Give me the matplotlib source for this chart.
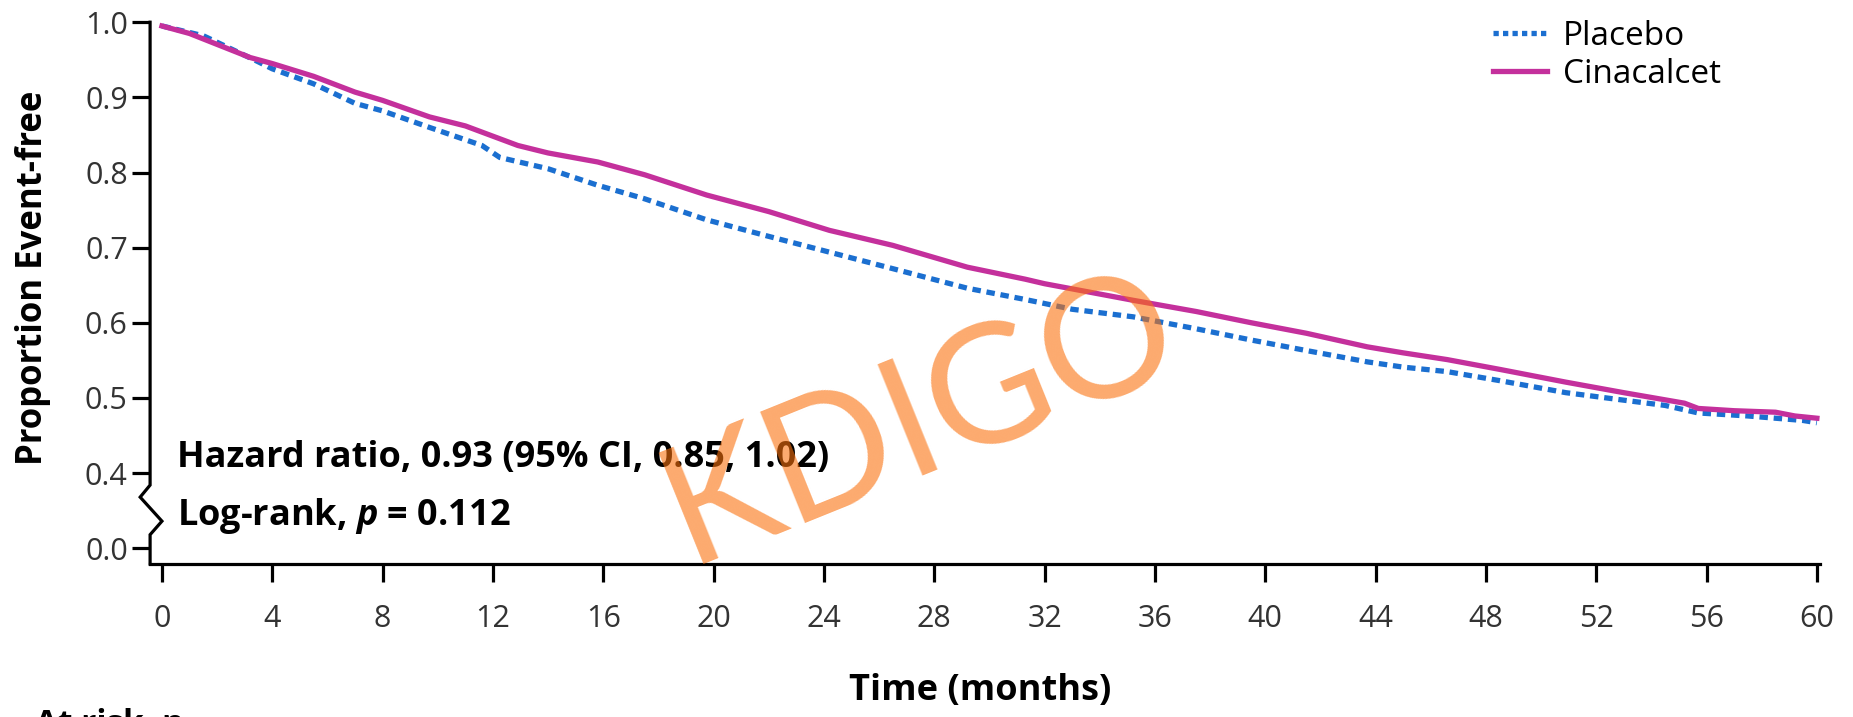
import matplotlib
matplotlib.use("Agg")
import matplotlib.pyplot as plt
from matplotlib.lines import Line2D

# Kaplan-Meier style curves (months, proportion event-free)
cina_t = [0, 1, 3.2, 4, 5.5, 7, 8, 9.7, 11, 12.9, 14, 15.8, 17.5, 19.75, 22, 24.2,
          26.5, 29.2, 31.3, 32, 35.2, 37.5, 39.5, 41.5, 43.7, 45, 46.6, 48.5, 50.9,
          53, 55.2, 55.7, 57, 58.5, 59.2, 60]
cina_s = [0.995, 0.985, 0.953, 0.945, 0.928, 0.907, 0.896, 0.874, 0.862, 0.836, 0.826,
          0.814, 0.797, 0.770, 0.748, 0.723, 0.703, 0.674, 0.658, 0.652, 0.630, 0.615,
          0.600, 0.586, 0.568, 0.560, 0.551, 0.538, 0.521, 0.507, 0.493, 0.486, 0.483,
          0.481, 0.476, 0.473]

plac_t = [0, 1.5, 3.4, 4, 5.5, 7, 8, 9.7, 11.6, 12.25, 14, 15.8, 17.5, 19.75, 22, 24.2,
          26.5, 29.2, 31.3, 33, 35.2, 37.5, 39.5, 41.5, 43.7, 45, 46.6, 48.5, 50.9, 53,
          54.5, 55.7, 57.5, 59.5, 60]
plac_s = [0.995, 0.982, 0.949, 0.938, 0.918, 0.892, 0.882, 0.860, 0.836, 0.820, 0.805,
          0.783, 0.765, 0.737, 0.715, 0.694, 0.672, 0.646, 0.631, 0.618, 0.608, 0.592,
          0.577, 0.563, 0.548, 0.541, 0.535, 0.523, 0.507, 0.497, 0.490, 0.480, 0.476,
          0.470, 0.467]

x_ticks = list(range(0, 61, 4))
y_tick_pos = [0.3, 0.4, 0.5, 0.6, 0.7, 0.8, 0.9, 1.0]   # 0.0 drawn at 0.3 (broken axis)
y_tick_lab = ["0.0", "0.4", "0.5", "0.6", "0.7", "0.8", "0.9", "1.0"]

MAGENTA = "#c4309c"
BLUE = "#1b6fd0"
FONT = "Open Sans"

plt.rcParams["font.family"] = [FONT, "DejaVu Sans"]
plt.rcParams["mathtext.fontset"] = "custom"
plt.rcParams["mathtext.it"] = "Open Sans:italic:bold"

fig = plt.figure(figsize=(18.53, 7.17), dpi=100)
ax = fig.add_axes([0.081, 0.2134, 0.901, 0.7556])

ax.plot(plac_t, plac_s, color=BLUE, lw=3.8, linestyle=(0, (1.6, 1.1)),
        dash_capstyle="butt", zorder=3)
ax.plot(cina_t, cina_s, color=MAGENTA, lw=3.8, zorder=4)

ax.set_xlim(-0.43, 60.1)
ax.set_ylim(0.279, 1.0)
ax.set_xticks(x_ticks)
ax.set_yticks(y_tick_pos)
ax.set_yticklabels(y_tick_lab)

for s in ["top", "right", "left"]:
    ax.spines[s].set_visible(False)
ax.spines["bottom"].set_linewidth(2.3)
ax.tick_params(axis="both", direction="out", length=13, width=2.3, color="black",
               labelsize=22, labelcolor="#333333")
ax.tick_params(axis="x", pad=16)
ax.tick_params(axis="y", pad=3)

# left spine with zigzag break between 0.0 and 0.4
zx = [-0.43, -0.43, -0.79, 0.0, -0.43, -0.43]
zy = [1.0, 0.384, 0.368, 0.336, 0.318, 0.279]
ax.plot(zx, zy, color="black", lw=2.3, clip_on=False, solid_joinstyle="miter",
        zorder=5)

fig.text(0.529, 1 - 691 / 717, "Time (months)", fontsize=26, fontweight="bold",
         ha="center", va="center")
fig.text(0.018, 1 - 278 / 717, "Proportion Event-free", fontsize=25, fontweight="bold",
         ha="center", va="center", rotation=90)

ax.text(0.54, 0.420, "Hazard ratio, 0.93 (95% CI, 0.85, 1.02)",
        fontsize=26, fontweight="bold", va="center", ha="left")
ax.text(0.54, 0.343, "Log-rank, $p$ = 0.112",
        fontsize=26, fontweight="bold", va="center", ha="left")

handles = [Line2D([], [], color=BLUE, lw=3.8, linestyle=(0, (1.0, 0.8)),
                  dash_capstyle="butt"),
           Line2D([], [], color=MAGENTA, lw=3.8)]
ax.legend(handles, ["Placebo", "Cinacalcet"], loc="upper right",
          bbox_to_anchor=(0.959, 1.06), frameon=False, fontsize=24,
          handlelength=1.6, handletextpad=0.5, labelspacing=0.15)

# watermark
fig.text(0.497, 0.415, "KDIGO", fontsize=120, color="#fa710d", alpha=0.6,
         rotation=22, ha="center", va="center", family="Lato", zorder=10)

# cut-off row label at the very bottom of the image
fig.text(0.019, 0.012, "At risk, n", fontsize=24, fontweight="bold", va="top",
         ha="left")

fig.savefig("out.png", dpi=100)
